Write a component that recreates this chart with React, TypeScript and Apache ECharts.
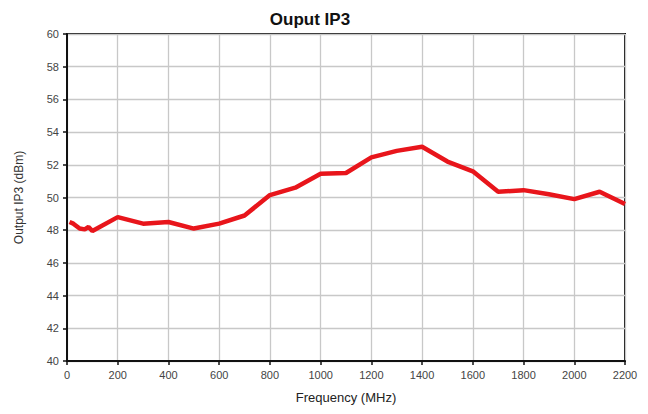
import React, { useEffect, useRef } from "react";
import * as echarts from "echarts";

const frequencies = [10, 25, 50, 70, 85, 100, 200, 300, 400, 500, 600, 700, 800, 900, 1000, 1100, 1200, 1300, 1400, 1500, 1600, 1700, 1800, 1900, 2000, 2100, 2200];
const outputIP3 = [48.5, 48.4, 48.1, 48.05, 48.2, 47.95, 48.8, 48.4, 48.5, 48.1, 48.4, 48.9, 50.15, 50.6, 51.45, 51.5, 52.45, 52.85, 53.1, 52.2, 51.6, 50.35, 50.45, 50.2, 49.9, 50.35, 49.6];
const xTicks = [0, 200, 400, 600, 800, 1000, 1200, 1400, 1600, 1800, 2000, 2200];
const yTicks = [40, 42, 44, 46, 48, 50, 52, 54, 56, 58, 60];

export default function App() {
  const ref = useRef<HTMLDivElement>(null);
  useEffect(() => {
    if (!ref.current) return;
    const chart = echarts.init(ref.current, null, { renderer: "svg" });
    const font = "'Liberation Sans', Arial, sans-serif";
    chart.setOption({
      animation: false,
      backgroundColor: "#ffffff",
      textStyle: { fontFamily: font },
      title: {
        text: "Ouput IP3",
        left: 305,
        top: 6,
        textAlign: "center",
        textStyle: { fontFamily: font, fontSize: 17, fontWeight: "bold", color: "#111" },
      },
      grid: {
        left: 67,
        right: 23,
        top: 34,
        bottom: 53,
        show: true,
        borderColor: "#111",
        borderWidth: 2,
        backgroundColor: "#fff",
      },
      xAxis: {
        type: "value",
        min: xTicks[0],
        max: xTicks[xTicks.length - 1],
        interval: 200,
        name: "Frequency (MHz)",
        nameLocation: "middle",
        nameGap: 30,
        nameTextStyle: { fontFamily: font, fontSize: 13, color: "#222" },
        axisLine: { show: true, lineStyle: { color: "#111", width: 2 } },
        axisTick: { show: true, length: 4, lineStyle: { color: "#111", width: 1.5 } },
        axisLabel: { fontFamily: font, fontSize: 11, color: "#444", margin: 8, formatter: (v: number) => String(v) },
        splitLine: { show: true, lineStyle: { color: "#c8c8c8", width: 1.3 } },
      },
      yAxis: {
        type: "value",
        min: yTicks[0],
        max: yTicks[yTicks.length - 1],
        interval: 2,
        name: "Output IP3 (dBm)",
        nameLocation: "middle",
        nameGap: 42,
        nameRotate: 90,
        nameTextStyle: { fontFamily: font, fontSize: 12, color: "#333" },
        axisLine: { show: true, lineStyle: { color: "#111", width: 2 } },
        axisTick: { show: true, length: 4, lineStyle: { color: "#111", width: 1.5 } },
        axisLabel: { fontFamily: font, fontSize: 11, color: "#444", margin: 8, formatter: (v: number) => String(v) },
        splitLine: { show: true, lineStyle: { color: "#c8c8c8", width: 1.3 } },
      },
      series: [
        {
          type: "line",
          data: frequencies.map((f, i) => [f, outputIP3[i]]),
          showSymbol: false,
          symbol: "none",
          lineStyle: { color: "#e8151b", width: 4.5 },
          itemStyle: { color: "#e8151b" },
        },
      ],
    });
    return () => chart.dispose();
  }, []);
  return (
    <div
      ref={ref}
      style={{ position: "fixed", left: 0, top: 0, width: 648, height: 414 }}
    />
  );
}
